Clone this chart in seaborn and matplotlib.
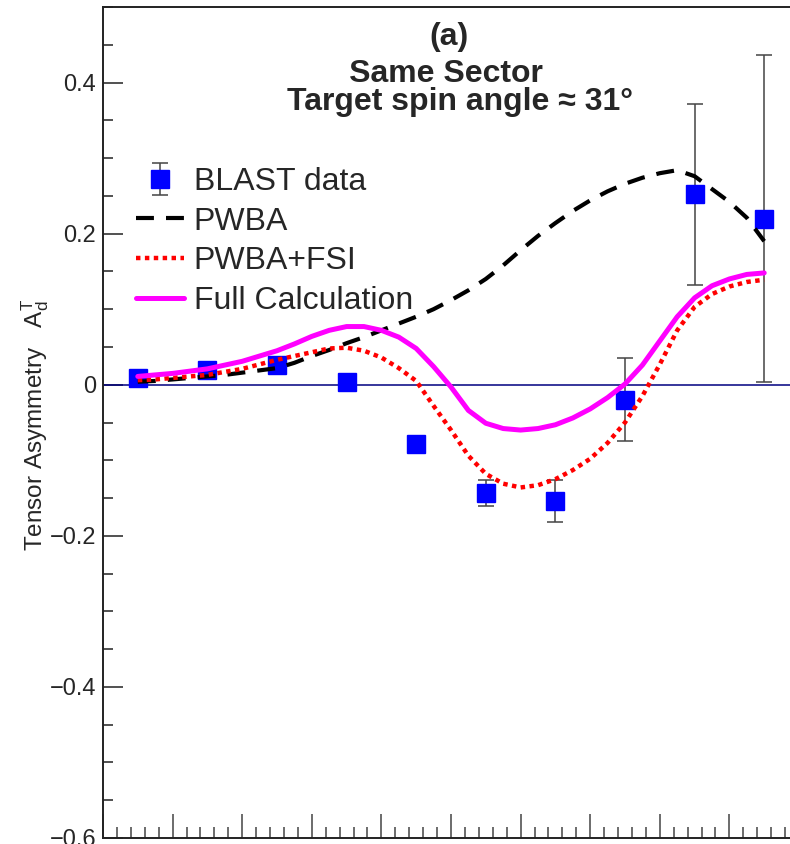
import numpy as np
import pandas as pd
import matplotlib
matplotlib.use("Agg")
import matplotlib.pyplot as plt
from matplotlib.ticker import MultipleLocator, FuncFormatter
import seaborn as sns

# ---------------- data ----------------
x_data = [0.5, 1.5, 2.5, 3.5, 4.5, 5.5, 6.5, 7.5, 8.5, 9.5]
y_data = [0.009, 0.020, 0.026, 0.004, -0.078, -0.143, -0.154, -0.020, 0.252, 0.220]
y_err = [0.006, 0.007, 0.008, 0.009, 0.010, 0.017, 0.028, 0.055, 0.120, 0.216]

x_curve = [0.5, 0.75, 1.0, 1.25, 1.5, 1.75, 2.0, 2.25, 2.5, 2.75, 3.0, 3.25, 3.5,
           3.75, 4.0, 4.25, 4.5, 4.75, 5.0, 5.25, 5.5, 5.75, 6.0, 6.25, 6.5, 6.75,
           7.0, 7.25, 7.5, 7.75, 8.0, 8.25, 8.5, 8.75, 9.0, 9.25, 9.5]
pwba = [0.004, 0.005, 0.007, 0.009, 0.011, 0.013, 0.016, 0.019, 0.022, 0.029,
        0.038, 0.046, 0.055, 0.063, 0.072, 0.081, 0.090, 0.100, 0.112, 0.125,
        0.140, 0.158, 0.178, 0.197, 0.214, 0.230, 0.244, 0.256, 0.266, 0.274,
        0.280, 0.284, 0.276, 0.259, 0.242, 0.221, 0.190]
pwba_fsi = [0.006, 0.007, 0.009, 0.011, 0.013, 0.017, 0.021, 0.027, 0.033, 0.038,
            0.043, 0.048, 0.049, 0.045, 0.036, 0.022, 0.005, -0.028, -0.060, -0.094,
            -0.118, -0.131, -0.136, -0.133, -0.125, -0.113, -0.098, -0.077, -0.050,
            -0.015, 0.027, 0.072, 0.103, 0.120, 0.130, 0.136, 0.139]
full_calc = [0.011, 0.013, 0.015, 0.018, 0.021, 0.026, 0.031, 0.038, 0.045, 0.054,
             0.064, 0.072, 0.077, 0.077, 0.072, 0.063, 0.048, 0.024, -0.003, -0.034,
             -0.051, -0.058, -0.060, -0.058, -0.053, -0.044, -0.032, -0.017, 0.001,
             0.026, 0.058, 0.090, 0.115, 0.131, 0.140, 0.146, 0.148]

legend_labels = ["BLAST data", "PWBA", "PWBA+FSI", "Full Calculation"]
title_a = "(a)"
title_l2 = "Same Sector"
title_l3 = "Target spin angle \u2248 31\u00b0"
y_label = "Tensor Asymmetry   $\\mathregular{A_{d}^{T}}$"

# ---------------- style ----------------
sns.set_theme(style="ticks")
plt.rcParams["font.family"] = ["Liberation Sans", "DejaVu Sans"]
plt.rcParams["mathtext.fontset"] = "custom"
plt.rcParams["mathtext.rm"] = "Liberation Sans"
plt.rcParams["mathtext.bf"] = "Liberation Sans:bold"
plt.rcParams["axes.unicode_minus"] = True

W, H = 790, 844
fig = plt.figure(figsize=(W / 100, H / 100), dpi=100)
ax_left, ax_top, ax_bottom, ax_right = 103, 7, 838, 799
ax = fig.add_axes([ax_left / W, 1 - ax_bottom / H,
                   (ax_right - ax_left) / W, (ax_bottom - ax_top) / H])
ax.set_facecolor("white")

ax.axhline(0, color="#000080", lw=1.1, zorder=1)

ax.errorbar(x_data, y_data, yerr=y_err, fmt="s", color="#0000ff", mec="#0000ff",
            ms=12.5, ecolor="#444444", elinewidth=1.1, capsize=5.5, capthick=1.1,
            zorder=2, label=legend_labels[0])

df = pd.DataFrame({"x": x_curve, "pwba": pwba, "fsi": pwba_fsi, "full": full_calc})
sns.lineplot(data=df, x="x", y="pwba", ax=ax, color="black", lw=3.0,
             linestyle=(0, (4.3, 2.9)), sort=False, estimator=None, zorder=3,
             label=legend_labels[1])
sns.lineplot(data=df, x="x", y="fsi", ax=ax, color="#ff0000", lw=3.2,
             linestyle=(0, (1, 1)), sort=False, estimator=None, zorder=3,
             label=legend_labels[2])
sns.lineplot(data=df, x="x", y="full", ax=ax, color="#ff00ff", lw=3.6,
             sort=False, estimator=None, zorder=3, label=legend_labels[3])

ax.set_xlim(0, 10)
ax.set_ylim(-0.6, 0.5)

ax.yaxis.set_major_locator(MultipleLocator(0.2))
ax.yaxis.set_minor_locator(MultipleLocator(0.05))
ax.xaxis.set_major_locator(MultipleLocator(1))
ax.xaxis.set_minor_locator(MultipleLocator(0.2))


def yfmt(v, pos):
    if abs(v) < 1e-9:
        return "0"
    return f"{v:.1f}".replace("-", "\u2212")


ax.yaxis.set_major_formatter(FuncFormatter(yfmt))
spine_col = "#222222"
ax.tick_params(axis="y", which="major", direction="in", length=14.4, width=1.1,
               color=spine_col, labelsize=17, pad=5, left=True, right=False)
ax.tick_params(axis="y", which="minor", direction="in", length=7.2, width=1.1,
               color=spine_col, left=True, right=False)
ax.tick_params(axis="x", which="major", direction="in", length=17, width=1.1,
               color="#444444", labelbottom=False, top=False)
ax.tick_params(axis="x", which="minor", direction="in", length=8, width=1.1,
               color="#444444", top=False)
for sp in ax.spines.values():
    sp.set_color(spine_col)
    sp.set_linewidth(1.4)

ax.set_xlabel("")
ax.set_ylabel(y_label, fontsize=17.5)
ax.yaxis.label.set_verticalalignment("baseline")
ax.yaxis.set_label_coords((42 - ax_left) / (ax_right - ax_left), 0.497)

# legend
handles, labels = ax.get_legend_handles_labels()
order = [labels.index(l) for l in legend_labels]
ax.legend([handles[i] for i in order], [labels[i] for i in order],
          loc="upper left", bbox_to_anchor=(136 / W, 1 - 167 / H),
          bbox_transform=fig.transFigure, frameon=False, fontsize=23,
          handlelength=1.5, handletextpad=0.3, labelspacing=0.30,
          borderpad=0, borderaxespad=0)

# title lines
fig.text(449 / W, 1 - 45 / H, title_a, ha="center", va="baseline",
         fontsize=23, fontweight="bold")
fig.text(633 / W, 1 - 110 / H,
         " " * 7 + title_l2 + "\n" + title_l3,
         ha="right", va="baseline", multialignment="left",
         linespacing=0.93, fontsize=23, fontweight="bold")

fig.savefig("out.png", dpi=100)
